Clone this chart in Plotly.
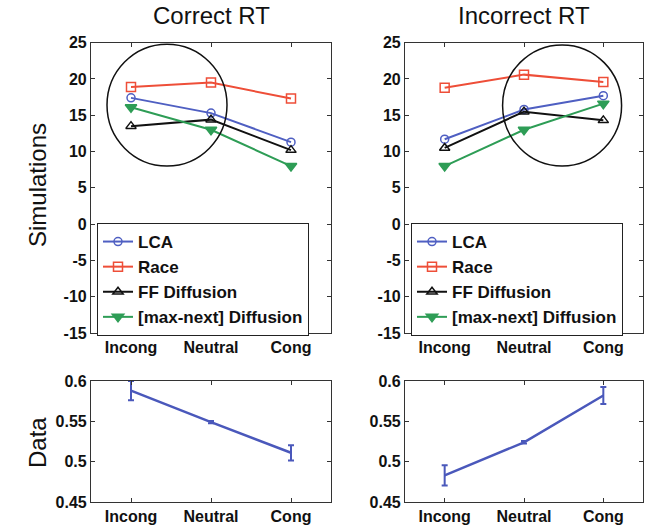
import plotly.graph_objects as go

conditions = ["Incong", "Neutral", "Cong"]
cond_pos = [1, 2, 3]

model_names = ["LCA", "Race", "FF Diffusion", "[max-next] Diffusion"]

# Simulations, Correct RT
correct_lca = [17.4, 15.3, 11.3]
correct_race = [18.9, 19.5, 17.3]
correct_ff = [13.5, 14.4, 10.2]
correct_maxnext = [16.1, 13.0, 8.0]

# Simulations, Incorrect RT
incorrect_lca = [11.7, 15.8, 17.7]
incorrect_race = [18.8, 20.6, 19.6]
incorrect_ff = [10.5, 15.5, 14.3]
incorrect_maxnext = [8.0, 13.0, 16.6]

# Data
data_correct = [0.588, 0.549, 0.511]
data_correct_err = [0.012, 0.0015, 0.0095]
data_incorrect = [0.483, 0.524, 0.582]
data_incorrect_err = [0.0125, 0.0015, 0.0105]

sim_ticks = [-15, -10, -5, 0, 5, 10, 15, 20, 25]
sim_tick_labels = ["-15", "-10", "-5", "0", "5", "10", "15", "20", "25"]
data_ticks = [0.45, 0.5, 0.55, 0.6]
data_tick_labels = ["0.45", "0.5", "0.55", "0.6"]

# highlight circles (x0, x1, y0, y1) in data units
circle_correct = [0.70, 2.20, 8.0, 24.8]
circle_incorrect = [1.73, 3.23, 8.0, 24.7]

colors = ["#4f5fc2", "#ee4e38", "#111111", "#2e9d56"]
symbols = ["circle-open", "square-open", "triangle-up-open", "triangle-down"]
msizes = [8, 9, 9, 10]
data_color = "#4a58bb"

FONT = "Liberation Sans"

fig = go.Figure()

panels = [
    ("x", "y", "legend", [correct_lca, correct_race, correct_ff, correct_maxnext]),
    ("x2", "y2", "legend2", [incorrect_lca, incorrect_race, incorrect_ff, incorrect_maxnext]),
]
for xa, ya, lg, series in panels:
    for name, vals, c, s, ms in zip(model_names, series, colors, symbols, msizes):
        fig.add_trace(go.Scatter(
            x=cond_pos, y=vals, mode="lines+markers", name=name,
            xaxis=xa, yaxis=ya, legend=lg,
            line=dict(color=c, width=2),
            marker=dict(symbol=s, size=ms, color=c, line=dict(color=c, width=1.5)),
        ))

for xa, ya, vals, err in [("x3", "y3", data_correct, data_correct_err),
                          ("x4", "y4", data_incorrect, data_incorrect_err)]:
    fig.add_trace(go.Scatter(
        x=cond_pos, y=vals, mode="lines", xaxis=xa, yaxis=ya, showlegend=False,
        line=dict(color=data_color, width=2.5),
        error_y=dict(type="data", array=err, color=data_color, thickness=2, width=3),
    ))

W, H = 651, 529
def px_x(p):
    return p / W
def px_y(p):
    return 1 - p / H

dom_left = [px_x(91), px_x(331)]
dom_right = [px_x(405), px_x(643)]
dom_top = [px_y(333), px_y(42.7)]
dom_bot = [px_y(502), px_y(381)]

axis_common = dict(
    showline=True, linecolor="#333333", linewidth=1.2, mirror="allticks",
    ticks="inside", ticklen=4, tickcolor="#333333", showgrid=False, zeroline=False,
    automargin=False,
    tickfont=dict(family=FONT, size=16, color="#111111", weight="bold"),
)
xcommon = dict(axis_common, range=[0.5, 3.5], tickvals=cond_pos, ticktext=conditions)
ysim = dict(axis_common, range=[-15, 25], tickvals=sim_ticks, ticktext=sim_tick_labels)
ydat = dict(axis_common, range=[0.45, 0.6], tickvals=data_ticks, ticktext=data_tick_labels)

legend_common = dict(xanchor="left", yanchor="top",
                     bordercolor="#222222", borderwidth=1, bgcolor="white",
                     font=dict(family=FONT, size=17, color="#111111", weight="bold"),
                     tracegroupgap=0, itemwidth=30)

fig.update_layout(
    template="none",
    xaxis=dict(xcommon, domain=dom_left, anchor="y"),
    yaxis=dict(ysim, domain=dom_top, anchor="x"),
    xaxis2=dict(xcommon, domain=dom_right, anchor="y2"),
    yaxis2=dict(ysim, domain=dom_top, anchor="x2"),
    xaxis3=dict(xcommon, domain=dom_left, anchor="y3"),
    yaxis3=dict(ydat, domain=dom_bot, anchor="x3"),
    xaxis4=dict(xcommon, domain=dom_right, anchor="y4"),
    yaxis4=dict(ydat, domain=dom_bot, anchor="x4"),
    width=W, height=H,
    margin=dict(l=0, r=0, t=0, b=0, pad=0),
    paper_bgcolor="white", plot_bgcolor="white",
    font=dict(family=FONT, color="#111111"),
    legend=dict(legend_common, x=px_x(97), y=px_y(223)),
    legend2=dict(legend_common, x=px_x(411), y=px_y(223)),
    showlegend=True,
)

for (xr, yr, c) in [("x", "y", circle_correct), ("x2", "y2", circle_incorrect)]:
    fig.add_shape(type="circle", xref=xr, yref=yr, x0=c[0], x1=c[1], y0=c[2], y1=c[3],
                  line=dict(color="#111111", width=1.5), layer="above")

titles = [("Correct RT", px_x(211)), ("Incorrect RT", px_x(524))]
for t, xp in titles:
    fig.add_annotation(text=t, x=xp, y=px_y(15), xref="paper", yref="paper",
                       showarrow=False, font=dict(family=FONT, size=24, color="#111111"),
                       xanchor="center", yanchor="middle")

fig.add_annotation(text="Simulations", x=px_x(37), y=px_y(185), xref="paper", yref="paper",
                   showarrow=False, textangle=-90, font=dict(family=FONT, size=24, color="#111111"),
                   xanchor="center", yanchor="middle")
fig.add_annotation(text="Data", x=px_x(37), y=px_y(443), xref="paper", yref="paper",
                   showarrow=False, textangle=-90, font=dict(family=FONT, size=24, color="#111111"),
                   xanchor="center", yanchor="middle")

fig.write_html("out.html",
               config={"displayModeBar": False},
               post_script="document.body.style.margin='0';document.body.style.overflow='hidden';")
